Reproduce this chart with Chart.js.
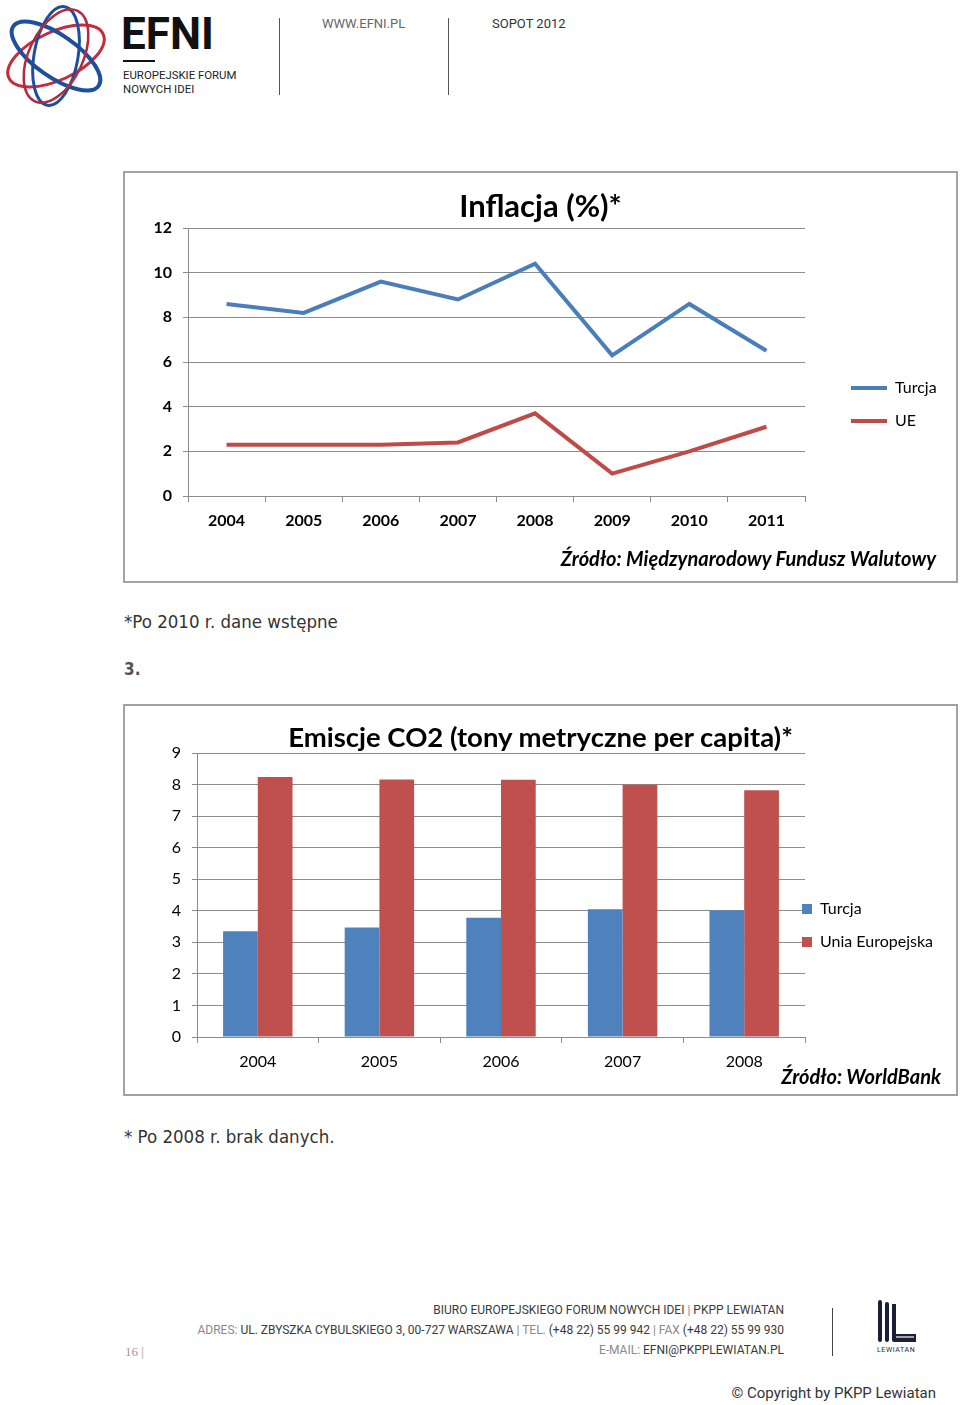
<!DOCTYPE html>
<html>
<head>
<meta charset="utf-8">
<title>EFNI - Inflacja i emisje CO2</title>
<script src="https://cdn.jsdelivr.net/npm/chart.js@4.4.1/dist/chart.umd.min.js"></script>
<style>
    body { margin:0; width:960px; height:1405px; position:relative; background:#fff; overflow:hidden; font-family:'Lato', sans-serif; }
    .abs { position:absolute; white-space:nowrap; line-height:1; }
    .box { position:absolute; border:2px solid #a3a3a3; box-sizing:border-box; }
    .narrow { font-family:'Liberation Sans Narrow', 'Roboto', sans-serif; }
    .note { font-family:'DejaVu Sans Condensed', 'DejaVu Sans', sans-serif; font-size:18.5px; color:#333; }
    .foot { font-family:'Liberation Sans Narrow', 'Roboto', sans-serif; font-size:12px; color:#3a3a3a; right:176px; }
    .foot span { color:#8a8a8a; }
    canvas { position:absolute; }
</style>
</head>
<body>

<!-- naglowek -->
<svg class="abs" style="left:0;top:0" width="112" height="112" viewBox="0 0 112 112">
    <g fill="none">
        <ellipse cx="56" cy="56" rx="52" ry="24" transform="rotate(-25 56 56)" stroke="#c8293b" stroke-width="3"/>
        <ellipse cx="56" cy="56" rx="52" ry="21" transform="rotate(35 56 56)" stroke="#1d4f9c" stroke-width="4"/>
        <ellipse cx="56" cy="56" rx="50" ry="22" transform="rotate(100 56 56)" stroke="#1d4f9c" stroke-width="3"/>
        <ellipse cx="56" cy="56" rx="50" ry="27" transform="rotate(-65 56 56)" stroke="#b32a3e" stroke-width="2.5"/>
    </g>
</svg>
<div class="abs narrow" style="left:121px;top:12px;font-size:44px;font-weight:bold;color:#111;">EFNI</div>
<div class="abs" style="left:123px;top:60px;width:32px;height:2px;background:#111;"></div>
<div class="abs narrow" style="left:123px;top:70px;font-size:11.4px;color:#222;">EUROPEJSKIE FORUM</div>
<div class="abs narrow" style="left:123px;top:84px;font-size:11.4px;color:#222;">NOWYCH IDEI</div>
<div class="abs" style="left:279px;top:18px;width:1px;height:77px;background:#555;"></div>
<div class="abs" style="left:448px;top:18px;width:1px;height:77px;background:#555;"></div>
<div class="abs narrow" style="left:322px;top:17px;font-size:13px;color:#666;">WWW.EFNI.PL</div>
<div class="abs narrow" style="left:492px;top:17px;font-size:13px;color:#333;">SOPOT 2012</div>

<!-- wykres 1 -->
<div class="box" style="left:123px;top:171px;width:835px;height:412px;"></div>
<canvas id="inflacja" width="831" height="408" style="left:125px;top:173px;"></canvas>
<div class="abs" style="left:124px;width:833px;text-align:center;top:190px;font-size:31px;font-weight:bold;color:#000;">Inflacja (%)*</div>
<div class="abs" style="right:24px;top:548px;font-size:20px;font-weight:bold;font-style:italic;color:#000;">Źródło: Międzynarodowy Fundusz Walutowy</div>

<div class="abs note" style="left:124px;top:613px;">*Po 2010 r. dane wstępne</div>
<div class="abs note" style="left:124px;top:661px;font-weight:bold;color:#555;font-size:17px;">3.</div>

<!-- wykres 2 -->
<div class="box" style="left:123px;top:704px;width:835px;height:392px;"></div>
<canvas id="co2" width="831" height="388" style="left:125px;top:706px;"></canvas>
<div class="abs" style="left:124px;width:833px;text-align:center;top:723px;font-size:27.5px;font-weight:bold;color:#000;">Emiscje CO2 (tony metryczne per capita)*</div>
<div class="abs" style="right:19px;top:1066px;font-size:20px;font-weight:bold;font-style:italic;color:#000;">Źródło: WorldBank</div>

<div class="abs note" style="left:124px;top:1128px;">* Po 2008 r. brak danych.</div>

<!-- stopka -->
<div class="abs foot" style="top:1304px;">BIURO EUROPEJSKIEGO FORUM NOWYCH IDEI <span>|</span> PKPP LEWIATAN</div>
<div class="abs foot" style="top:1324px;"><span>ADRES:</span> UL. ZBYSZKA CYBULSKIEGO 3, 00-727 WARSZAWA <span>| TEL.</span> (+48 22) 55 99 942 <span>| FAX</span> (+48 22) 55 99 930</div>
<div class="abs foot" style="top:1344px;"><span>E-MAIL:</span> EFNI@PKPPLEWIATAN.PL</div>
<div class="abs" style="left:125px;top:1345px;font-family:'Liberation Serif',serif;font-size:13px;color:#999;">16 |</div>
<div class="abs" style="left:832px;top:1308px;width:1px;height:48px;background:#444;"></div>
<svg class="abs" style="left:874px;top:1298px" width="48" height="48" viewBox="0 0 48 48">
    <g fill="#1c1f3a">
        <rect x="4" y="2" width="4" height="42" rx="2"/>
        <rect x="11" y="4" width="4" height="40" rx="2"/>
        <path d="M18 6 h4 v30 h20 v8 h-22 a2 2 0 0 1 -2 -2 z"/>
    </g>
    <path d="M22 39 h18" stroke="#fff" stroke-width="1.2"/>
</svg>
<div class="abs narrow" style="left:877px;top:1347px;font-size:7px;letter-spacing:0.6px;color:#1c1f3a;">LEWIATAN</div>
<div class="abs" style="right:24px;top:1386px;font-family:'Roboto',sans-serif;font-size:15px;color:#333;">© Copyright by PKPP Lewiatan</div>

<script>
    // dane - inflacja (MFW)
    const lata1 = ['2004', '2005', '2006', '2007', '2008', '2009', '2010', '2011'];
    const inflacjaTurcja = [8.6, 8.2, 9.6, 8.8, 10.4, 6.3, 8.6, 6.5];
    const inflacjaUE = [2.3, 2.3, 2.3, 2.4, 3.7, 1.0, 2.0, 3.1];
    const osY1 = [0, 2, 4, 6, 8, 10, 12];

    // dane - emisje CO2 (WorldBank)
    const lata2 = ['2004', '2005', '2006', '2007', '2008'];
    const co2Turcja = [3.35, 3.47, 3.78, 4.05, 4.01];
    const co2UE = [8.24, 8.16, 8.15, 7.99, 7.82];
    const osY2 = [0, 1, 2, 3, 4, 5, 6, 7, 8, 9];

    Chart.defaults.font.family = 'Lato';
    Chart.defaults.color = '#000';

    const szary = '#8c8c8c';

    // przesuwa legende w podane miejsce (wspolrzedne canvasa)
    const legendaTutaj = {
        id: 'legendaTutaj',
        afterLayout(chart, args, opts) {
            const lg = chart.legend;
            if (!lg || opts.x === undefined) return;
            const pad = lg.options.labels.padding;
            lg.left = opts.x - pad;
            lg.top = opts.y - pad;
            lg.right = lg.left + lg.width;
            lg.bottom = lg.top + 300;
        }
    };

    new Chart(document.getElementById('inflacja'), {
        type: 'line',
        data: {
            labels: lata1,
            datasets: [
                { label: 'Turcja', data: inflacjaTurcja, borderColor: '#4a7ebb', backgroundColor: '#4a7ebb', borderWidth: 4, pointRadius: 0, tension: 0 },
                { label: 'UE', data: inflacjaUE, borderColor: '#be4b48', backgroundColor: '#be4b48', borderWidth: 4, pointRadius: 0, tension: 0 }
            ]
        },
        plugins: [legendaTutaj],
        options: {
            responsive: false,
            animation: false,
            devicePixelRatio: 1,
            layout: { padding: { left: 23, top: 55, right: 151, bottom: 51 } },
            scales: {
                x: {
                    offset: true,
                    grid: { offset: true, drawOnChartArea: false, tickLength: 6, color: szary },
                    border: { color: szary },
                    ticks: { padding: 9, font: { size: 16, weight: 'bold' } },
                    afterFit: s => { s.height = 34; }
                },
                y: {
                    min: 0, max: 12,
                    afterBuildTicks: s => { s.ticks = osY1.map(v => ({ value: v })); },
                    grid: { tickLength: 5, color: szary },
                    border: { color: szary },
                    ticks: { padding: 11, font: { size: 16, weight: 'bold' } },
                    afterFit: s => { s.width = 40; }
                }
            },
            plugins: {
                tooltip: { enabled: false },
                legend: {
                    position: 'chartArea',
                    align: 'start',
                    labels: { usePointStyle: true, pointStyle: 'line', pointStyleWidth: 36, padding: 17, font: { size: 16 } }
                },
                legendaTutaj: { x: 726, y: 207 }
            }
        }
    });

    new Chart(document.getElementById('co2'), {
        type: 'bar',
        data: {
            labels: lata2,
            datasets: [
                { label: 'Turcja', data: co2Turcja, backgroundColor: '#4f81bd', borderWidth: 0 },
                { label: 'Unia Europejska', data: co2UE, backgroundColor: '#c0504d', borderWidth: 0 }
            ]
        },
        plugins: [legendaTutaj],
        options: {
            responsive: false,
            animation: false,
            devicePixelRatio: 1,
            categoryPercentage: 0.571,
            barPercentage: 1,
            layout: { padding: { left: 32, top: 47, right: 151, bottom: 23 } },
            scales: {
                x: {
                    grid: { offset: true, drawOnChartArea: false, tickLength: 6, color: szary },
                    border: { color: szary },
                    ticks: { padding: 9, font: { size: 16 } },
                    afterFit: s => { s.height = 34; }
                },
                y: {
                    min: 0, max: 9,
                    afterBuildTicks: s => { s.ticks = osY2.map(v => ({ value: v })); },
                    grid: { tickLength: 5, color: szary },
                    border: { color: szary },
                    ticks: { padding: 11, font: { size: 16 } },
                    afterFit: s => { s.width = 40; }
                }
            },
            plugins: {
                tooltip: { enabled: false },
                legend: {
                    position: 'chartArea',
                    align: 'start',
                    labels: { boxWidth: 10, boxHeight: 10, padding: 17, font: { size: 16 } }
                },
                legendaTutaj: { x: 677, y: 195 }
            }
        }
    });
</script>
</body>
</html>
